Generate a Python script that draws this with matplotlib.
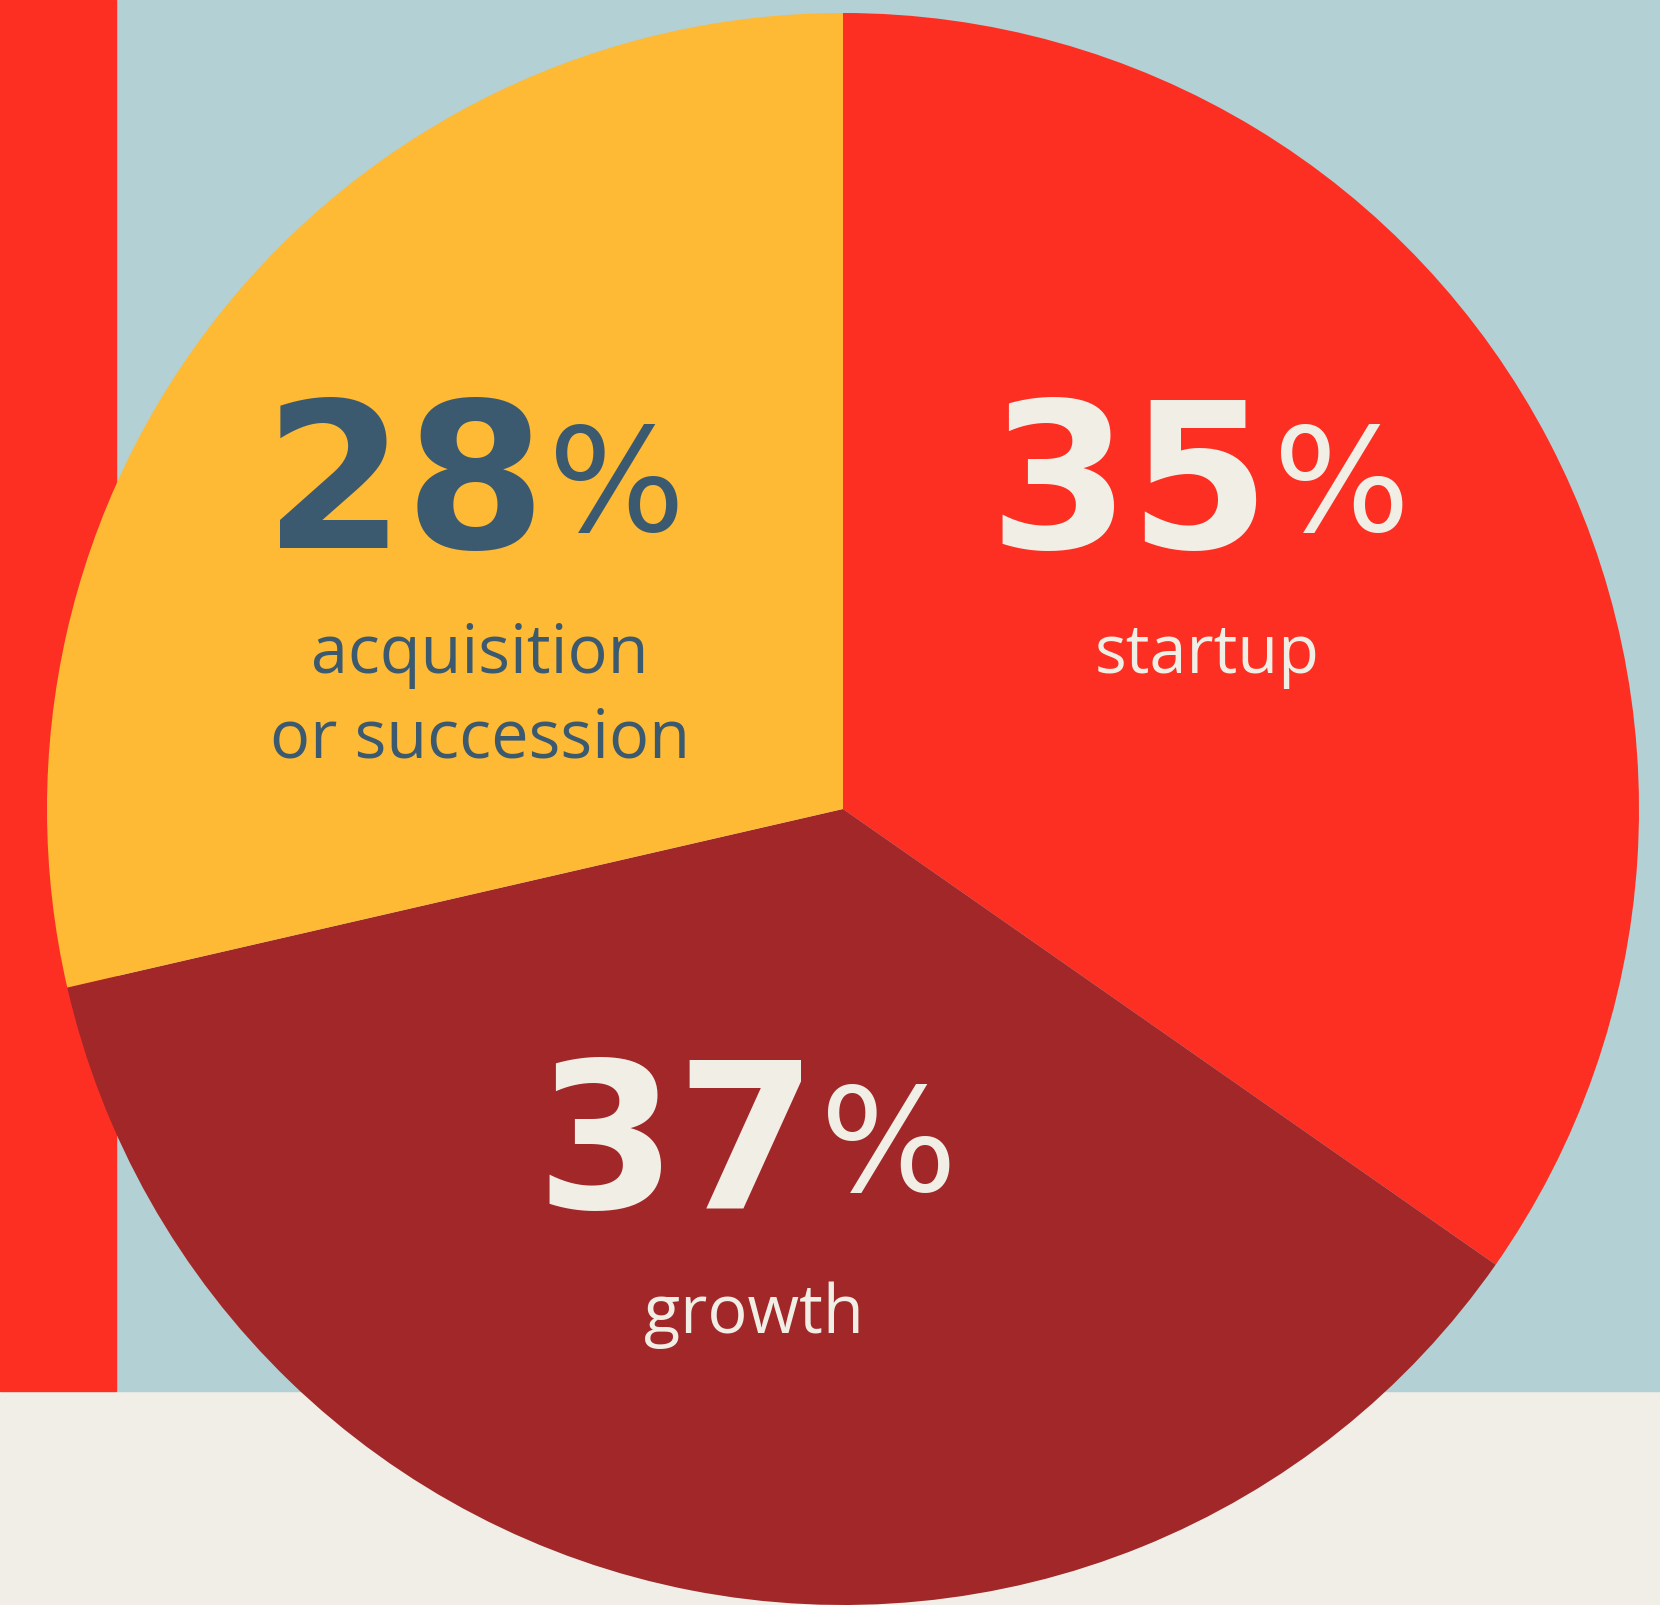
import matplotlib.pyplot as plt
from matplotlib.patches import Rectangle

# data
labels = ['startup', 'growth', 'acquisition\nor succession']
shares = [35, 37, 28]                 # printed values
wedge_sizes = [34.7, 36.7, 28.6]      # slice sizes as drawn in the picture
slice_colors = ['#FC2F22', '#A22729', '#FEB935']
text_colors = ['#F1EEE6', '#F1EEE6', '#3C5A6F']

W, H = 1660, 1605
fig = plt.figure(figsize=(W / 100, H / 100), dpi=100)
ax = fig.add_axes([0, 0, 1, 1])

# background blocks (pixel coords, y up)
ax.add_patch(Rectangle((0, 0), W, 214, color='#F1EEE7', zorder=0))
ax.add_patch(Rectangle((116, 214), W - 116, H - 214, color='#B3D0D4', zorder=0))
ax.add_patch(Rectangle((0, 214), 116, H - 214, color='#FC2F22', zorder=0))

ax.pie(wedge_sizes, colors=slice_colors, startangle=90, counterclock=False,
       center=(843, 796), radius=796, frame=True,
       wedgeprops=dict(linewidth=0, zorder=1))

# number / percent / label positions (pixel coords)
num_pos = [(1271, 1057), (818, 397), (546, 1057)]
pct_pos = [(1273, 1074), (820, 414), (548, 1074)]
lab_pos = [(1207, 932), (754, 272), (480, 932)]

for s, lab, c, npos, ppos, lpos in zip(shares, labels, text_colors, num_pos, pct_pos, lab_pos):
    ax.text(npos[0], npos[1], str(s), color=c, fontsize=146, fontweight='bold',
            family='DejaVu Sans', ha='right', va='baseline', zorder=3)
    ax.text(ppos[0], ppos[1], '%', color=c, fontsize=104,
            family='DejaVu Sans', ha='left', va='baseline', zorder=3)
    for k, line in enumerate(lab.split('\n')):
        ax.text(lpos[0], lpos[1] - 85 * k, line, color=c, fontsize=48,
                family='Open Sans', ha='center', va='baseline', zorder=3)

ax.set_xlim(0, W)
ax.set_ylim(0, H)
ax.axis('off')

fig.savefig('out.png', dpi=100)
